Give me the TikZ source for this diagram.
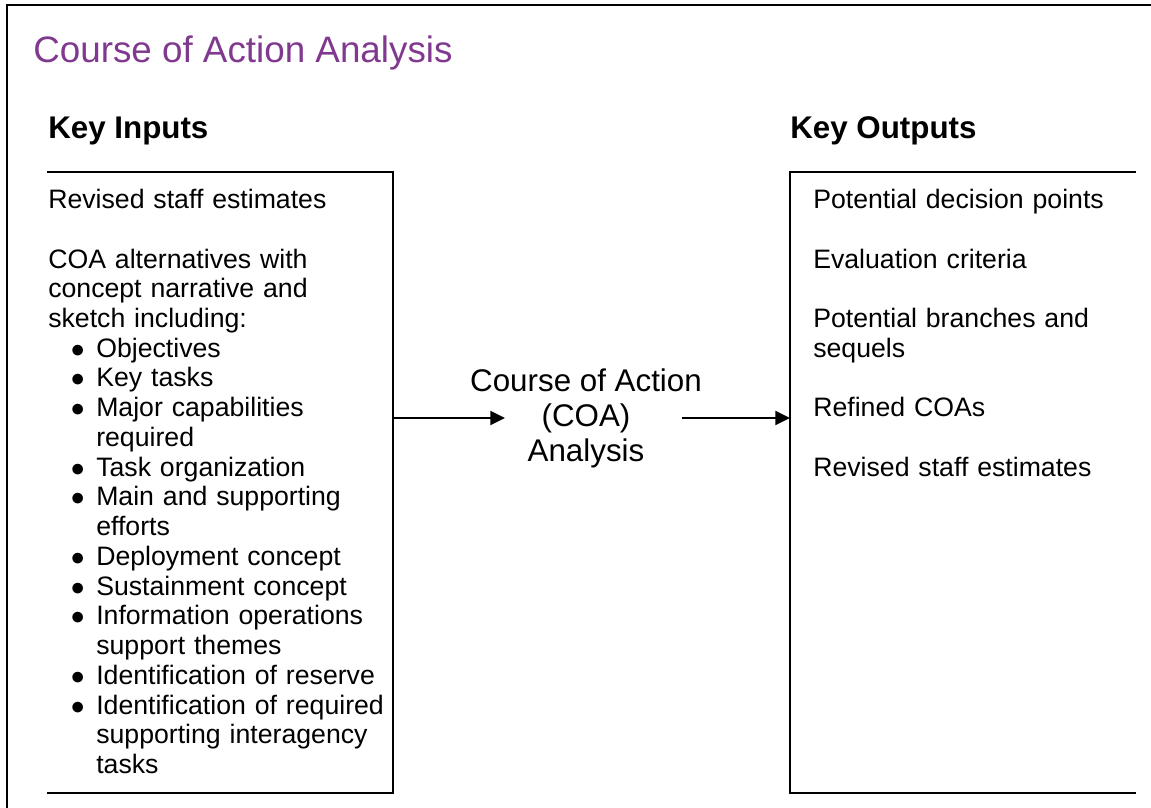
\documentclass[tikz,border=0pt]{standalone}
\usepackage{fontspec}
\setmainfont{Liberation Sans}
\usetikzlibrary{arrows.meta}
\usetikzlibrary{calc}
\setlength{\parindent}{0pt}
\definecolor{coapurple}{RGB}{128,57,142}
\newcommand{\coabullet}[1]{\par\hangindent=36pt\hangafter=1\hspace*{17pt}\makebox[19pt][l]{$\bullet$}#1\par}

\tikzset{
  rule/.style={line width=1.5pt, line cap=rect},
  heading/.style={anchor=base west, inner sep=0pt, font=\bfseries\fontsize{23.5}{28}\selectfont},
  panel/.style={anchor=north west, inner sep=0pt, outer sep=0pt, minimum width=258.75pt, minimum height=465.75pt},
  listtext/.style={anchor=north west, inner sep=0pt, text width=255pt, align=left, font=\fontsize{20}{22.3}\selectfont},
  flow/.style={line width=1.5pt, -{Triangle[length=11pt, width=10.5pt]}},
}

\begin{document}
\begin{tikzpicture}[x=0.75pt, y=-0.75pt]
      \useasboundingbox (0,0) rectangle (1151,807);
      \draw[rule] (7,807) -- (7,5) -- (1151,5);

      \node[anchor=base west, inner sep=0pt, text=coapurple, font=\fontsize{27.6}{33}\selectfont] (title) at (33,62) {Course of Action Analysis};

      \node[heading] (inhead) at (48,138) {Key Inputs};
      \node[heading] (outhead) at (790,138) {Key Outputs};

      \node[panel] (inputs) at (48,172) {};
      \node[panel] (outputs) at (790,172) {};
      \draw[rule] (inputs.north west) -- (inputs.north east) -- (inputs.south east) -- (inputs.south west);
      \draw[rule] (outputs.north east) -- (outputs.north west) -- (outputs.south west) -- (outputs.south east);

      \node[listtext] (inlist) at (48,189) {Revised staff estimates\par\vspace{22.3pt}
        COA alternatives with\\concept narrative and\\sketch including:
        \coabullet{Objectives}
        \coabullet{Key tasks}
        \coabullet{Major capabilities\newline required}
        \coabullet{Task organization}
        \coabullet{Main and supporting\newline efforts}
        \coabullet{Deployment concept}
        \coabullet{Sustainment concept}
        \coabullet{Information operations\newline support themes}
        \coabullet{Identification of reserve}
        \coabullet{Identification of required\newline supporting interagency\newline tasks}};

      \node[listtext] (outlist) at (813,189) {Potential decision points\par\vspace{22.3pt}
        Evaluation criteria\par\vspace{22.3pt}
        Potential branches and\\sequels\par\vspace{22.3pt}
        Refined COAs\par\vspace{22.3pt}
        Revised staff estimates};

      \node[align=center, inner sep=0pt, font=\fontsize{23.5}{26.3}\selectfont] (coa) at (586,418) {Course of Action\\(COA)\\Analysis};

      \draw[flow] (inputs.east |- coa) -- ($(coa)+(-81,0)$);
      \draw[flow] ($(coa)+(96,0)$) -- (outputs.west |- coa);
\end{tikzpicture}
\end{document}
